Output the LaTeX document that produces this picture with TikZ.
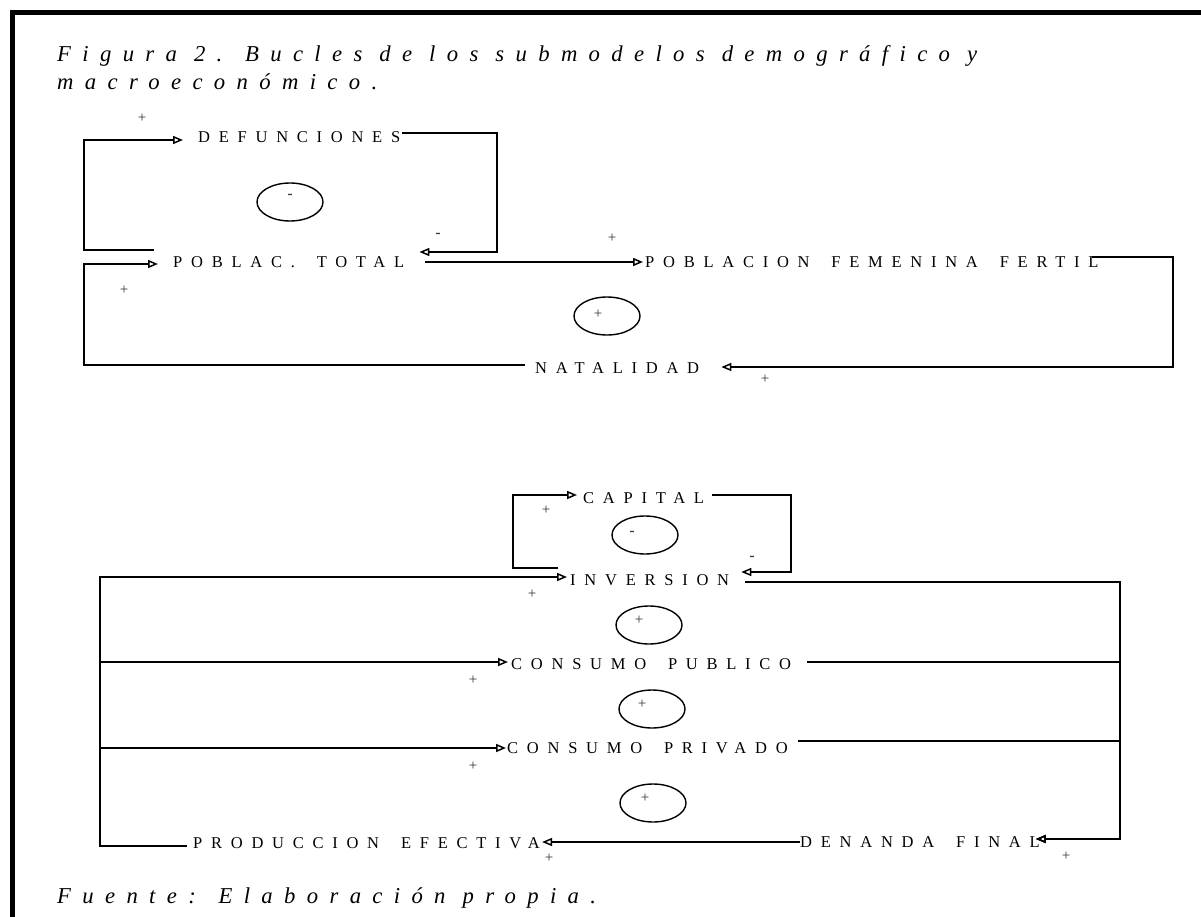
\documentclass[tikz,border=0pt]{standalone}
\usepackage{fontspec}
\setmainfont{Liberation Serif}
\newfontfamily\varfont[LetterSpace=53,WordSpace=1.7]{Liberation Serif}
\newfontfamily\titfont[LetterSpace=50]{Liberation Serif}
\usetikzlibrary{arrows.meta,shapes.geometric}

\begin{document}
\begin{tikzpicture}[x=1pt,y=-1pt,
    var/.style={anchor=base west,inner sep=0pt,font=\varfont\fontsize{16.5}{18}\selectfont},
    title/.style={anchor=base west,inner sep=0pt,font=\titfont\itshape\fontsize{22.7}{26}\selectfont},
    sign/.style={inner sep=0pt,text=black!80,font=\fontsize{15}{16}\selectfont},
    minus/.style={sign,font=\bfseries\fontsize{15}{16}\selectfont},
    loopmark/.style={ellipse,draw,line width=1.4pt,inner sep=0pt,minimum width=66pt,minimum height=38pt},
    flow/.style={line width=1.8pt},
    >={Triangle[open,length=10pt,width=8pt,line width=1.5pt]}]
\useasboundingbox (0,0) rectangle (1201,917);
\draw[line width=5pt,line join=miter] (12.5,917) -- (12.5,12.5) -- (1201,12.5);
%
       \node [title] at (57,62) (tit1) {Figura 2. Bucles de los submodelos demográfico y};
       \node [title] at (57,90) (tit2) {macroeconómico.};
       \node [title] at (57,903) (src) {Fuente: Elaboración propia.};
%
       \node [var] at (198,143) (def) {DEFUNCIONES};
       \node [var] at (173,268) (pob) {POBLAC. TOTAL};
       \node [var] at (645,268) (fem) {POBLACION FEMENINA FERTIL};
       \node [var] at (535,373) (nat) {NATALIDAD};
%
       \node [var] at (583,503) (cap) {CAPITAL};
       \node [var] at (570,585) (inv) {INVERSION};
       \node [var] at (511,669) (cpub) {CONSUMO PUBLICO};
       \node [var] at (507,753) (cpriv) {CONSUMO PRIVADO};
       \node [var] at (193,848) (prod) {PRODUCCION EFECTIVA};
       \node [var] at (800,847) (dem) {DENANDA FINAL};
%
       \node [loopmark] at (290,202) (b1) {};
       \node [loopmark] at (607,316) (b2) {};
       \node [loopmark] at (645,535) (b3) {};
       \node [loopmark] at (649,625) (b4) {};
       \node [loopmark] at (652,709) (b5) {};
       \node [loopmark] at (653,803) (b6) {};
       \node [minus] at (290,196) (b1 s) {-};
       \node [sign] at (598,314) (b2 s) {+};
       \node [minus] at (632,533) (b3 s) {-};
       \node [sign] at (639,620) (b4 s) {+};
       \node [sign] at (642,704) (b5 s) {+};
       \node [sign] at (645,798) (b6 s) {+};
%
       \node [sign] at (142,118) (s pob def) {+};
       \node [minus] at (438,235) (s def pob) {-};
       \node [sign] at (612,238) (s pob fem) {+};
       \node [sign] at (124,290) (s nat pob) {+};
       \node [sign] at (765,379) (s fem nat) {+};
       \node [sign] at (546,510) (s inv cap) {+};
       \node [minus] at (752,558) (s cap inv) {-};
       \node [sign] at (532,594) (s prod inv) {+};
       \node [sign] at (473,680) (s prod cpub) {+};
       \node [sign] at (473,766) (s prod cpriv) {+};
       \node [sign] at (549,858) (s dem prod) {+};
       \node [sign] at (1066,856) (s dem) {+};
%
% rails of the loops
       \coordinate (r1) at (84,200);
       \coordinate (r2) at (497,200);
       \coordinate (r3) at (1173,310);
       \coordinate (r4) at (84,310);
       \coordinate (r5) at (513,530);
       \coordinate (r6) at (791,530);
       \coordinate (r7) at (1120,800);
       \coordinate (r8) at (100,800);
%
% submodelo demografico
\draw[flow,->] ([xshift=-19pt,yshift=18pt]pob.base west) -| (r1) |- ([xshift=-15pt,yshift=3pt]def.base west);
\draw[flow,->] ([xshift=2pt,yshift=10pt]def.base east) -| (r2) |- ([xshift=15pt,yshift=16pt]pob.base east);
\path[flow,->] ([xshift=21pt,yshift=6pt]pob.base east) edge ([xshift=-2pt,yshift=6pt]fem.base west);
\draw[flow,->] ([xshift=-7pt,yshift=11pt]fem.base east) -| (r3) |- ([xshift=22pt,yshift=6pt]nat.base east);
\draw[flow,->] ([xshift=-10pt,yshift=8pt]nat.base west) -| (r4) |- ([xshift=-15pt,yshift=4pt]pob.base west);
% submodelo macroeconomico
\draw[flow,->] ([xshift=-12pt,yshift=17pt]inv.base west) -| (r5) |- ([xshift=-6pt,yshift=8pt]cap.base west);
\draw[flow,->] ([xshift=8pt,yshift=8pt]cap.base east) -| (r6) |- ([xshift=12pt,yshift=13pt]inv.base east);
\draw[flow,->] ([xshift=16pt,yshift=3pt]inv.base east) -| (r7) |- ([xshift=-4pt,yshift=8pt]dem.base east);
\draw[flow,->] ([xshift=16pt,yshift=7pt]cpub.base east) -| (r7) |- ([xshift=-4pt,yshift=8pt]dem.base east);
\draw[flow,->] ([xshift=10pt,yshift=12pt]cpriv.base east) -| (r7) |- ([xshift=-4pt,yshift=8pt]dem.base east);
\path[flow,->] ([yshift=5pt]dem.base west) edge ([xshift=2pt,yshift=6pt]prod.base east);
\draw[flow,->] ([xshift=-6pt,yshift=2pt]prod.base west) -| (r8) |- ([xshift=-3pt,yshift=8pt]inv.base west);
\draw[flow,->] ([xshift=-6pt,yshift=2pt]prod.base west) -| (r8) |- ([xshift=-3pt,yshift=7pt]cpub.base west);
\draw[flow,->] ([xshift=-6pt,yshift=2pt]prod.base west) -| (r8) |- ([xshift=-1pt,yshift=5pt]cpriv.base west);

\end{tikzpicture}
\end{document}
